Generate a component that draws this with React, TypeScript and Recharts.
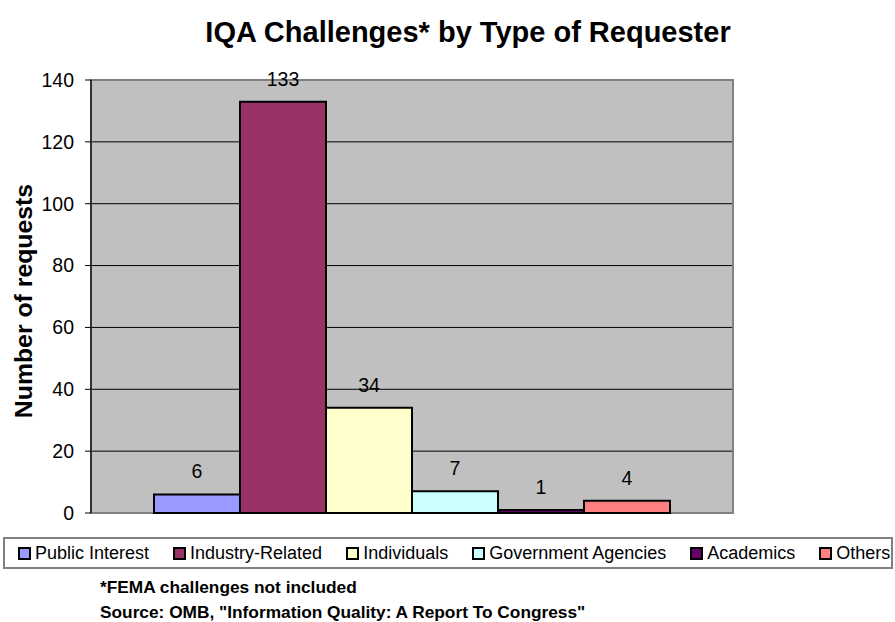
import React from "react";
import { BarChart, Bar, XAxis, YAxis, CartesianGrid, LabelList, ReferenceArea } from "recharts";

const categories = ["IQA Challenges"];
const seriesNames = ["Public Interest", "Industry-Related", "Individuals", "Government Agencies", "Academics", "Others"];
const seriesKeys = ["publicInterest", "industryRelated", "individuals", "governmentAgencies", "academics", "others"];
const seriesValues = [6, 133, 34, 7, 1, 4];
const seriesColors = ["#9999FF", "#993366", "#FFFFCC", "#CCFFFF", "#660066", "#FF8080"];
const yTicks = [0, 20, 40, 60, 80, 100, 120, 140];
const title = "IQA Challenges* by Type of Requester";
const yLabel = "Number of requests";
const footnotes = ["*FEMA challenges not included", 'Source: OMB, "Information Quality: A Report To Congress"'];

const data = categories.map((c) => {
  const row: Record<string, any> = { name: c };
  seriesKeys.forEach((k, i) => (row[k] = seriesValues[i]));
  return row;
});

const FONT = '"Liberation Sans", Arial, sans-serif';

export default function App() {
  return (
    <div style={{ position: "absolute", left: 0, top: 0, width: 895, height: 622, background: "#fff", fontFamily: FONT }}>
      <BarChart
        width={895}
        height={622}
        data={data}
        margin={{ top: 80, right: 162, bottom: 109, left: 0 }}
        barCategoryGap={63}
        barGap={0}
      >
        <CartesianGrid vertical={false} stroke="#000" strokeWidth={1} fill="#C0C0C0" fillOpacity={1} />
        <XAxis dataKey="name" hide />
        <YAxis
          width={91}
          domain={[0, 140]}
          ticks={yTicks}
          interval={0}
          tickSize={6}
          tickMargin={11}
          axisLine={{ stroke: "#333", strokeWidth: 2 }}
          tickLine={{ stroke: "#000", strokeWidth: 1 }}
          tick={{ fill: "#000", fontSize: 19.5, fontFamily: FONT }}
        />
        <ReferenceArea y1={0} y2={140} fill="none" stroke="#808080" strokeWidth={2} ifOverflow="visible" />
        {seriesKeys.map((k, i) => (
          <Bar key={k} dataKey={k} name={seriesNames[i]} fill={seriesColors[i]} stroke="#000" strokeWidth={2} isAnimationActive={false}>
            <LabelList dataKey={k} position="top" offset={16} fill="#000" fontSize={19.5} fontFamily={FONT} />
          </Bar>
        ))}
      </BarChart>
      <svg width={895} height={622} style={{ position: "absolute", left: 0, top: 0, pointerEvents: "none" }}>
        <text x={468} y={42} textAnchor="middle" fontSize={29} fontWeight="bold" fontFamily={FONT} fill="#000">
          {title}
        </text>
        <text
          x={32}
          y={301}
          textAnchor="middle"
          fontSize={24.8}
          fontWeight="bold"
          fontFamily={FONT}
          fill="#000"
          transform="rotate(-90 32 301)"
        >
          {yLabel}
        </text>
        {footnotes.map((f, i) => (
          <text key={i} x={100} y={593 + i * 25} fontSize={17.3} fontWeight="bold" fontFamily={FONT} fill="#000">
            {f}
          </text>
        ))}
      </svg>
      <div
        style={{
          position: "absolute",
          left: 3,
          top: 537,
          width: 890,
          height: 32,
          boxSizing: "border-box",
          border: "2px solid #808080",
          display: "flex",
          alignItems: "center",
          paddingLeft: 13,
          fontSize: 18,
          fontFamily: FONT,
          color: "#000",
        }}
      >
        {seriesNames.map((n, i) => (
          <div key={n} style={{ display: "flex", alignItems: "center", marginRight: 24, whiteSpace: "nowrap" }}>
            <span
              style={{
                display: "inline-block",
                width: 13,
                height: 13,
                boxSizing: "border-box",
                border: "2px solid #000",
                background: seriesColors[i],
                marginRight: 4,
              }}
            />
            <span>{n}</span>
          </div>
        ))}
      </div>
    </div>
  );
}
